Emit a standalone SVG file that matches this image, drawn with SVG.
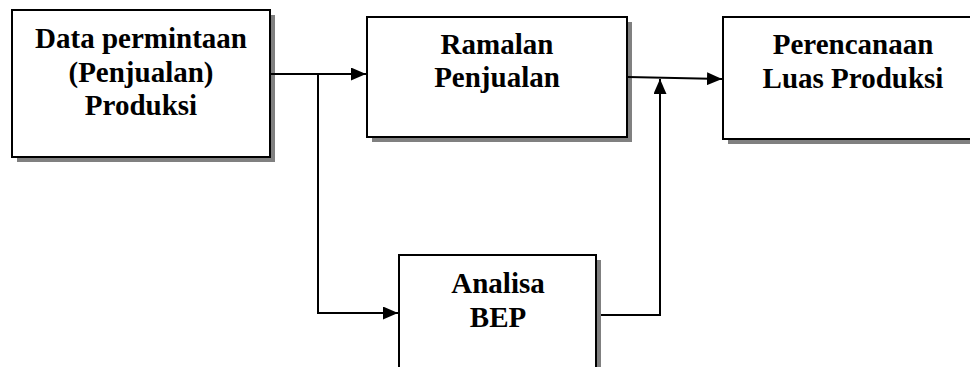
<svg xmlns="http://www.w3.org/2000/svg" width="970" height="367" viewBox="0 0 970 367">
<defs>
<style>
.shadow{fill:#808080;stroke:none}
.box{fill:#fff;stroke:#000;stroke-width:2}
.t{font-family:"Liberation Serif","Times New Roman",serif;font-weight:bold;font-size:29px;fill:#000;text-anchor:middle}
.c{fill:none;stroke:#000;stroke-width:2}
</style>
<marker id="ahb" viewBox="0 0 15 13" refX="15" refY="6.5" markerWidth="15" markerHeight="13" markerUnits="userSpaceOnUse" orient="auto">
<path d="M0,0 L15,6.5 L0,13 Z" fill="#000"/>
</marker>
</defs>
<g id="n1">
<rect class="shadow" x="17" y="15" width="258" height="147"/>
<rect class="box" x="12" y="10" width="258" height="147"/>
<text class="t" x="141" y="48">Data permintaan</text>
<text class="t" x="141" y="82">(Penjualan)</text>
<text class="t" x="141" y="115">Produksi</text>
</g>
<g id="n2">
<rect class="shadow" x="372" y="22" width="260" height="120"/>
<rect class="box" x="367" y="17" width="260" height="120"/>
<text class="t" x="497" y="54">Ramalan</text>
<text class="t" x="497" y="87">Penjualan</text>
</g>
<g id="n3">
<rect class="shadow" x="728" y="22" width="260" height="122"/>
<rect class="box" x="723" y="17" width="260" height="122"/>
<text class="t" x="853" y="54">Perencanaan</text>
<text class="t" x="853" y="88">Luas Produksi</text>
</g>
<g id="n4">
<rect class="shadow" x="404" y="260" width="197" height="120"/>
<rect class="box" x="399" y="255" width="197" height="120"/>
<text class="t" x="498" y="293">Analisa</text>
<text class="t" x="498" y="327">BEP</text>
</g>
<g id="connectors">
<path class="c" d="M271,74 L366,74" marker-end="url(#ahb)"/>
<path class="c" d="M318,74 L318,313 L398,313" marker-end="url(#ahb)"/>
<path class="c" d="M628,77 L722,79" marker-end="url(#ahb)"/>
<path class="c" d="M601,315 L660,315 L660,79" marker-end="url(#ahb)"/>
</g>
</svg>
